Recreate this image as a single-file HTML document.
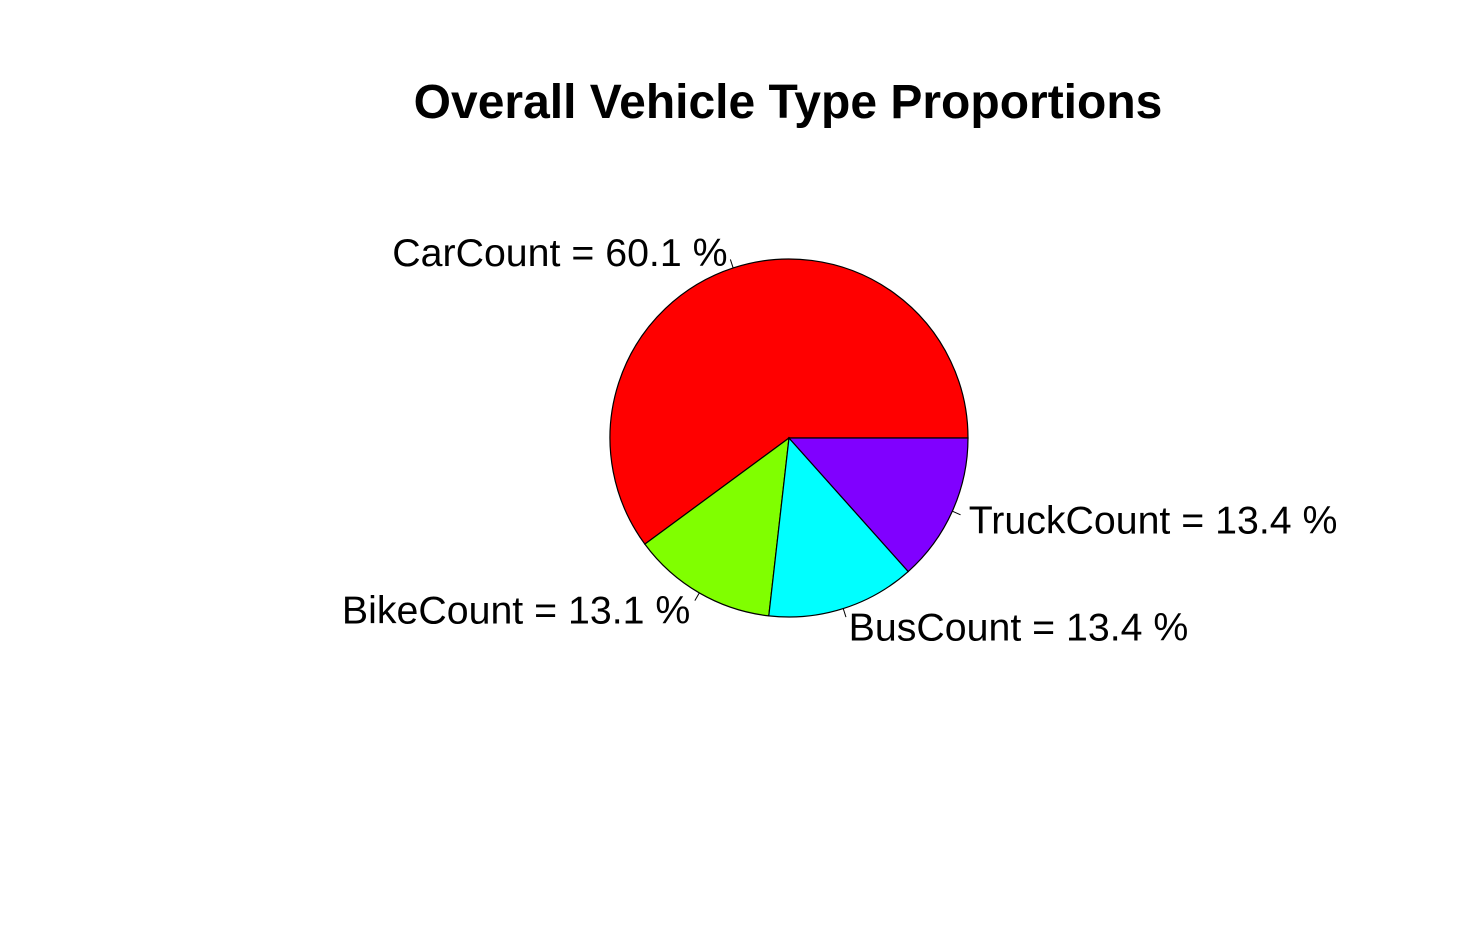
<!DOCTYPE html>
<html><head><meta charset="utf-8"><style>
html,body{margin:0;padding:0;background:#fff;}
svg{display:block;font-family:"Liberation Sans",Arial,sans-serif;}
</style></head><body>
<svg id="chart" width="1482" height="925" viewBox="0 0 1482 925" xmlns="http://www.w3.org/2000/svg">
<rect width="1482" height="925" fill="#fff"/>
<text x="788" y="118" text-anchor="middle" font-size="48" font-weight="bold">Overall Vehicle Type Proportions</text>
<g id="slices"></g>
<g id="labels"></g>
</svg>
<script>
const categories = ["CarCount", "BikeCount", "BusCount", "TruckCount"];
const values = [60.1, 13.1, 13.4, 13.4];
const colors = ["#FF0000", "#80FF00", "#00FFFF", "#8000FF"];

const cx = 789, cy = 438, r = 179;
const NS = "http://www.w3.org/2000/svg";
const total = values.reduce((a, b) => a + b, 0);
const sg = document.getElementById("slices");
const lg = document.getElementById("labels");
function pt(a, rr) { return [cx + rr * Math.cos(a), cy - rr * Math.sin(a)]; }
let start = 0;
values.forEach((v, i) => {
  const sweep = v / total * 2 * Math.PI;
  const end = start + sweep;
  const p0 = pt(start, r), p1 = pt(end, r);
  const large = sweep > Math.PI ? 1 : 0;
  const path = document.createElementNS(NS, "path");
  path.setAttribute("d", `M${cx},${cy} L${p0[0]},${p0[1]} A${r},${r} 0 ${large} 0 ${p1[0]},${p1[1]} Z`);
  path.setAttribute("fill", colors[i]);
  path.setAttribute("stroke", "#000");
  path.setAttribute("stroke-width", "1.2");
  
  
  sg.appendChild(path);
  const mid = (start + end) / 2;
  const a = pt(mid, r), b = pt(mid, r * 1.05), c = pt(mid, r * 1.1);
  const ln = document.createElementNS(NS, "line");
  ln.setAttribute("x1", a[0]); ln.setAttribute("y1", a[1]);
  ln.setAttribute("x2", b[0]); ln.setAttribute("y2", b[1]);
  ln.setAttribute("stroke", "#000"); ln.setAttribute("stroke-width", "1");
  
  
  lg.appendChild(ln);
  const t = document.createElementNS(NS, "text");
  t.setAttribute("x", c[0]);
  t.setAttribute("y", c[1] + 15);
  t.setAttribute("font-size", "39.3");
  t.setAttribute("text-anchor", Math.cos(mid) < 0 ? "end" : "start");
  t.textContent = categories[i] + " = " + v.toFixed(1) + " %";
  
  
  lg.appendChild(t);
  start = end;
});
</script>
</body></html>
